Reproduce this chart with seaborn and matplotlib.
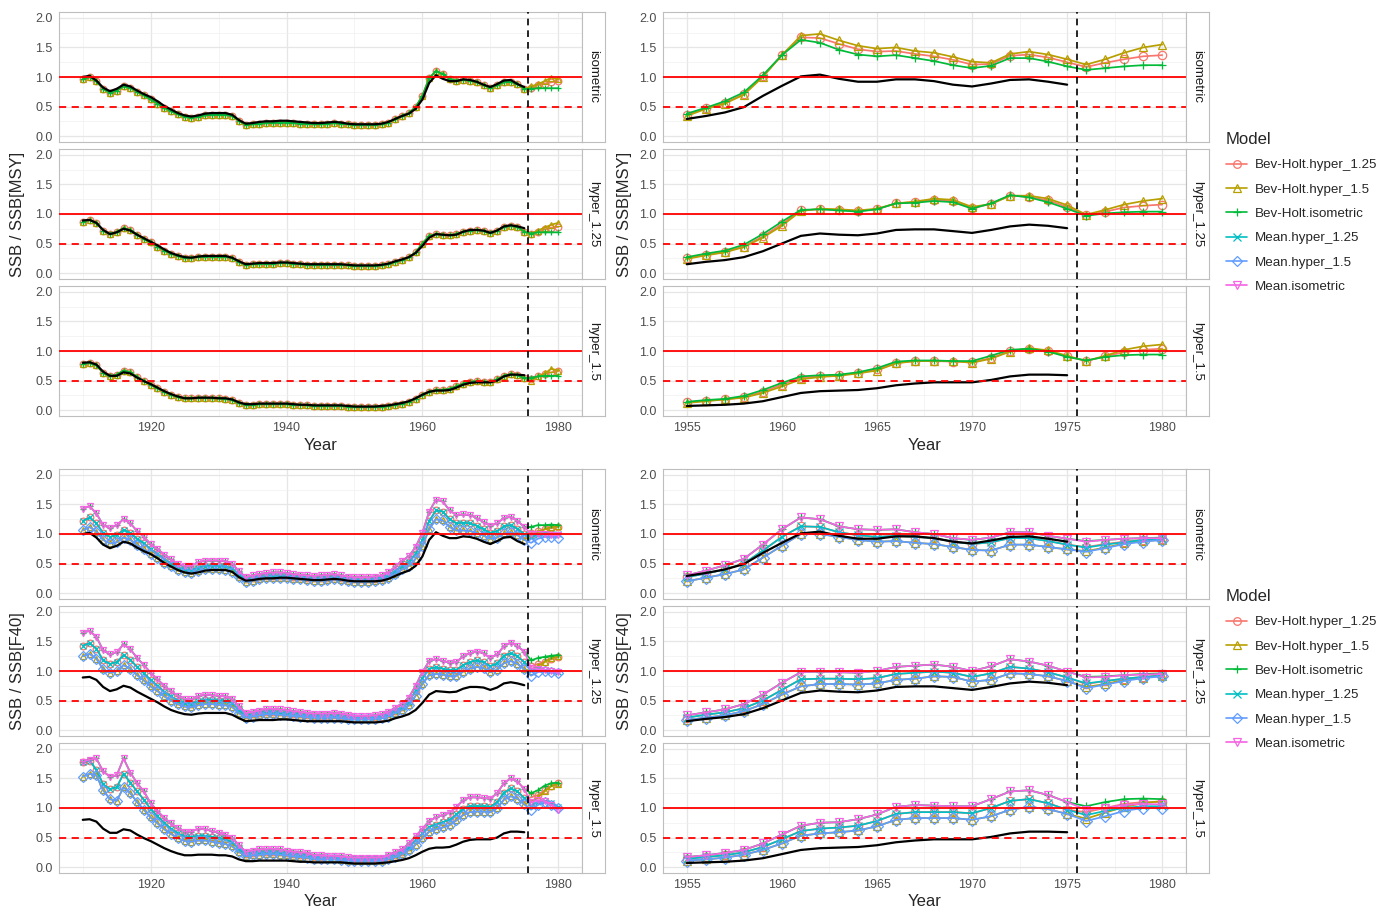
import matplotlib
matplotlib.use("Agg")
import matplotlib.pyplot as plt
from matplotlib.markers import MarkerStyle
from matplotlib.lines import Line2D
import pandas as pd
import seaborn as sns

sns.set_theme(style="white")
plt.rcParams["font.family"] = ["Liberation Sans", "DejaVu Sans"]

# ---------------------------------------------------------------- data
facets = ["isometric", "hyper_1.25", "hyper_1.5"]
models = ["Bev-Holt.hyper_1.25", "Bev-Holt.hyper_1.5", "Bev-Holt.isometric",
          "Mean.hyper_1.25", "Mean.hyper_1.5", "Mean.isometric"]
model_colors = ["#F8766D", "#B79F00", "#00BA38", "#00BFC4", "#619CFF", "#F564E3"]
model_shapes = ["o", "^", "+", "x", "D", "v"]

years_long = list(range(1910, 1981))
years_short = list(range(1955, 1981))
obs_years_long = list(range(1910, 1976))
obs_years_short = list(range(1955, 1976))
proj_start = 1976
cutoff_year = 1975.5

# assessment (black) ratios, long series 1910-1975
obs_L_iso = [1.00, 1.02, 0.94, 0.82, 0.76, 0.80, 0.87, 0.84, 0.77, 0.71,
             0.66, 0.59, 0.51, 0.45, 0.39, 0.35, 0.33, 0.35, 0.38, 0.39,
             0.39, 0.39, 0.36, 0.27, 0.21, 0.22, 0.24, 0.25, 0.25, 0.26,
             0.26, 0.25, 0.24, 0.23, 0.22, 0.22, 0.23, 0.24, 0.23, 0.21,
             0.20, 0.20, 0.20, 0.20, 0.21, 0.24, 0.29, 0.34, 0.38, 0.46,
             0.62, 0.90, 1.03, 0.97, 0.93, 0.93, 0.96, 0.95, 0.92, 0.87,
             0.83, 0.88, 0.94, 0.95, 0.88, 0.83]
obs_L_h125 = [0.89, 0.90, 0.85, 0.73, 0.66, 0.69, 0.75, 0.72, 0.65, 0.59,
              0.53, 0.47, 0.40, 0.34, 0.30, 0.27, 0.26, 0.28, 0.29, 0.29,
              0.29, 0.29, 0.26, 0.20, 0.15, 0.16, 0.17, 0.17, 0.17, 0.18,
              0.18, 0.17, 0.16, 0.15, 0.15, 0.15, 0.15, 0.15, 0.15, 0.14,
              0.13, 0.13, 0.13, 0.13, 0.14, 0.16, 0.20, 0.23, 0.27, 0.34,
              0.46, 0.60, 0.66, 0.65, 0.64, 0.65, 0.70, 0.73, 0.73, 0.72,
              0.68, 0.72, 0.79, 0.81, 0.79, 0.76]
obs_L_h15 = [0.80, 0.81, 0.77, 0.65, 0.58, 0.58, 0.64, 0.62, 0.55, 0.49,
             0.44, 0.38, 0.32, 0.27, 0.23, 0.20, 0.20, 0.21, 0.21, 0.21,
             0.20, 0.20, 0.18, 0.13, 0.10, 0.10, 0.11, 0.11, 0.11, 0.11,
             0.11, 0.10, 0.09, 0.09, 0.08, 0.08, 0.08, 0.08, 0.08, 0.07,
             0.06, 0.06, 0.06, 0.06, 0.07, 0.08, 0.10, 0.12, 0.15, 0.20,
             0.26, 0.31, 0.33, 0.33, 0.34, 0.38, 0.43, 0.46, 0.47, 0.47,
             0.47, 0.50, 0.57, 0.60, 0.60, 0.59]

# assessment (black) ratios, short series 1955-1975
obs_R_iso = [0.29, 0.34, 0.40, 0.49, 0.68, 0.85, 1.01, 1.04, 0.97, 0.92, 0.92,
             0.96, 0.96, 0.93, 0.87, 0.84, 0.89, 0.95, 0.96, 0.92, 0.87]
obs_R_h125 = [0.15, 0.19, 0.22, 0.27, 0.37, 0.50, 0.63, 0.67, 0.65, 0.64, 0.67,
              0.73, 0.74, 0.74, 0.71, 0.68, 0.73, 0.79, 0.82, 0.80, 0.76]
obs_R_h15 = [0.07, 0.08, 0.09, 0.11, 0.15, 0.22, 0.29, 0.32, 0.33, 0.34, 0.37,
             0.42, 0.45, 0.47, 0.47, 0.47, 0.51, 0.57, 0.60, 0.60, 0.59]

# SSB/SSB[MSY], long series: Bev-Holt fits 1910-1975 (coincident) + projections
msy_L_fit_iso = [0.96, 1.00, 0.93, 0.80, 0.73, 0.77, 0.84, 0.82, 0.75, 0.69,
                 0.62, 0.55, 0.48, 0.42, 0.37, 0.33, 0.31, 0.33, 0.35, 0.36,
                 0.36, 0.36, 0.34, 0.26, 0.19, 0.20, 0.21, 0.22, 0.22, 0.23,
                 0.23, 0.22, 0.21, 0.21, 0.20, 0.20, 0.21, 0.22, 0.21, 0.20,
                 0.19, 0.19, 0.19, 0.19, 0.20, 0.23, 0.29, 0.34, 0.39, 0.49,
                 0.68, 0.98, 1.10, 1.05, 0.97, 0.94, 0.95, 0.94, 0.91, 0.86,
                 0.82, 0.86, 0.91, 0.92, 0.88, 0.80]
msy_L_fit_h125 = [0.87, 0.90, 0.85, 0.72, 0.66, 0.70, 0.76, 0.73, 0.65, 0.58,
                  0.52, 0.45, 0.38, 0.33, 0.29, 0.26, 0.26, 0.28, 0.28, 0.28,
                  0.28, 0.28, 0.25, 0.19, 0.14, 0.15, 0.16, 0.16, 0.16, 0.17,
                  0.17, 0.16, 0.15, 0.14, 0.14, 0.14, 0.14, 0.14, 0.14, 0.13,
                  0.12, 0.12, 0.12, 0.12, 0.13, 0.15, 0.19, 0.22, 0.27, 0.35,
                  0.50, 0.63, 0.66, 0.65, 0.64, 0.66, 0.70, 0.72, 0.73, 0.71,
                  0.68, 0.72, 0.78, 0.80, 0.78, 0.70]
msy_L_fit_h15 = [0.78, 0.80, 0.76, 0.63, 0.57, 0.60, 0.67, 0.64, 0.56, 0.49,
                 0.43, 0.37, 0.31, 0.26, 0.22, 0.20, 0.20, 0.21, 0.21, 0.20,
                 0.20, 0.19, 0.17, 0.12, 0.09, 0.09, 0.10, 0.10, 0.10, 0.10,
                 0.10, 0.09, 0.09, 0.08, 0.07, 0.07, 0.07, 0.07, 0.07, 0.06,
                 0.05, 0.05, 0.05, 0.05, 0.06, 0.07, 0.09, 0.11, 0.14, 0.19,
                 0.26, 0.31, 0.34, 0.34, 0.36, 0.40, 0.45, 0.48, 0.49, 0.48,
                 0.48, 0.52, 0.58, 0.61, 0.59, 0.54]
msy_L_proj_iso = {"Bev-Holt.hyper_1.25": [0.82, 0.86, 0.89, 0.91, 0.93],
                  "Bev-Holt.hyper_1.5": [0.84, 0.88, 0.93, 0.99, 0.96],
                  "Bev-Holt.isometric": [0.80, 0.81, 0.81, 0.81, 0.81]}
msy_L_proj_h125 = {"Bev-Holt.hyper_1.25": [0.66, 0.70, 0.74, 0.77, 0.78],
                   "Bev-Holt.hyper_1.5": [0.67, 0.72, 0.77, 0.82, 0.85],
                   "Bev-Holt.isometric": [0.67, 0.69, 0.69, 0.69, 0.69]}
msy_L_proj_h15 = {"Bev-Holt.hyper_1.25": [0.52, 0.57, 0.61, 0.64, 0.66],
                  "Bev-Holt.hyper_1.5": [0.50, 0.57, 0.62, 0.70, 0.67],
                  "Bev-Holt.isometric": [0.55, 0.57, 0.58, 0.58, 0.58]}

# SSB/SSB[MSY], short series 1955-1980
msy_R_iso = {
    "Bev-Holt.hyper_1.25": [0.36, 0.47, 0.56, 0.71, 1.01, 1.37, 1.67, 1.66, 1.56, 1.47, 1.43, 1.44, 1.39,
                            1.35, 1.29, 1.21, 1.22, 1.36, 1.38, 1.33, 1.25, 1.17, 1.24, 1.30, 1.35, 1.37],
    "Bev-Holt.hyper_1.5": [0.34, 0.46, 0.55, 0.70, 1.00, 1.37, 1.70, 1.73, 1.62, 1.53, 1.48, 1.50, 1.44,
                           1.41, 1.34, 1.26, 1.24, 1.39, 1.43, 1.38, 1.30, 1.21, 1.30, 1.41, 1.50, 1.55],
    "Bev-Holt.isometric": [0.38, 0.48, 0.59, 0.74, 1.03, 1.37, 1.63, 1.58, 1.46, 1.38, 1.35, 1.37, 1.32,
                           1.27, 1.20, 1.15, 1.19, 1.32, 1.32, 1.26, 1.18, 1.12, 1.15, 1.18, 1.20, 1.20]}
msy_R_h125 = {
    "Bev-Holt.hyper_1.25": [0.25, 0.31, 0.36, 0.45, 0.62, 0.83, 1.06, 1.08, 1.07, 1.05, 1.08, 1.18, 1.20,
                            1.24, 1.22, 1.10, 1.17, 1.31, 1.29, 1.23, 1.12, 0.98, 1.04, 1.11, 1.14, 1.16],
    "Bev-Holt.hyper_1.5": [0.24, 0.30, 0.35, 0.44, 0.60, 0.80, 1.05, 1.09, 1.08, 1.06, 1.09, 1.18, 1.21,
                           1.26, 1.24, 1.12, 1.17, 1.31, 1.31, 1.26, 1.15, 0.99, 1.07, 1.16, 1.22, 1.26],
    "Bev-Holt.isometric": [0.27, 0.33, 0.38, 0.48, 0.66, 0.87, 1.07, 1.08, 1.06, 1.04, 1.08, 1.18, 1.19,
                           1.22, 1.20, 1.09, 1.18, 1.32, 1.28, 1.20, 1.09, 0.97, 1.01, 1.03, 1.04, 1.04]}
msy_R_h15 = {
    "Bev-Holt.hyper_1.25": [0.13, 0.16, 0.18, 0.22, 0.31, 0.43, 0.55, 0.57, 0.59, 0.63, 0.69, 0.80, 0.83,
                            0.83, 0.82, 0.81, 0.88, 1.00, 1.04, 1.00, 0.91, 0.83, 0.91, 0.98, 1.02, 1.04],
    "Bev-Holt.hyper_1.5": [0.12, 0.15, 0.18, 0.21, 0.29, 0.40, 0.52, 0.56, 0.58, 0.62, 0.67, 0.79, 0.83,
                           0.83, 0.83, 0.80, 0.87, 0.99, 1.05, 1.01, 0.92, 0.83, 0.92, 1.02, 1.08, 1.11],
    "Bev-Holt.isometric": [0.14, 0.17, 0.19, 0.24, 0.34, 0.46, 0.57, 0.59, 0.60, 0.64, 0.71, 0.82, 0.84,
                           0.84, 0.83, 0.83, 0.92, 1.02, 1.04, 0.99, 0.90, 0.84, 0.90, 0.93, 0.94, 0.94]}

# SSB/SSB[F40], long series: fitted 1910-1975 (hi = isometric models,
# mid = hyper_1.25 models, lo = hyper_1.5 models) + projections 1976-1980
f40_L_hi_iso = [1.43, 1.47, 1.35, 1.15, 1.10, 1.15, 1.25, 1.18, 1.05, 0.95,
                0.83, 0.75, 0.65, 0.57, 0.50, 0.46, 0.46, 0.52, 0.55, 0.55,
                0.55, 0.54, 0.50, 0.37, 0.27, 0.30, 0.32, 0.34, 0.35, 0.35,
                0.34, 0.32, 0.31, 0.30, 0.29, 0.30, 0.31, 0.32, 0.30, 0.28,
                0.27, 0.27, 0.27, 0.28, 0.30, 0.35, 0.45, 0.55, 0.62, 0.78,
                1.02, 1.38, 1.58, 1.55, 1.40, 1.32, 1.33, 1.32, 1.27, 1.20,
                1.14, 1.18, 1.27, 1.29, 1.22, 1.12]
f40_L_mid_iso = [1.22, 1.28, 1.18, 1.02, 0.95, 0.98, 1.07, 1.02, 0.92, 0.84,
                 0.74, 0.66, 0.58, 0.50, 0.44, 0.40, 0.39, 0.43, 0.46, 0.46,
                 0.46, 0.45, 0.42, 0.31, 0.23, 0.25, 0.27, 0.29, 0.29, 0.29,
                 0.29, 0.28, 0.27, 0.26, 0.25, 0.25, 0.26, 0.27, 0.26, 0.24,
                 0.23, 0.23, 0.23, 0.24, 0.26, 0.30, 0.38, 0.46, 0.53, 0.66,
                 0.90, 1.22, 1.40, 1.38, 1.25, 1.18, 1.19, 1.18, 1.14, 1.08,
                 1.02, 1.05, 1.13, 1.15, 1.09, 1.00]
f40_L_lo_iso = [1.06, 1.12, 1.04, 0.90, 0.84, 0.86, 0.94, 0.90, 0.81, 0.74,
                0.66, 0.59, 0.51, 0.45, 0.39, 0.35, 0.34, 0.37, 0.40, 0.40,
                0.40, 0.39, 0.36, 0.27, 0.19, 0.21, 0.23, 0.25, 0.25, 0.25,
                0.25, 0.24, 0.23, 0.22, 0.21, 0.21, 0.22, 0.23, 0.22, 0.20,
                0.19, 0.19, 0.19, 0.20, 0.22, 0.26, 0.33, 0.40, 0.46, 0.58,
                0.80, 1.08, 1.25, 1.23, 1.12, 1.06, 1.06, 1.05, 1.02, 0.97,
                0.92, 0.94, 1.01, 1.03, 0.98, 0.90]
f40_L_hi_h125 = [1.65, 1.68, 1.58, 1.35, 1.28, 1.32, 1.45, 1.37, 1.22, 1.10,
                 0.97, 0.86, 0.75, 0.66, 0.58, 0.53, 0.52, 0.57, 0.60, 0.59,
                 0.58, 0.57, 0.53, 0.40, 0.29, 0.31, 0.33, 0.36, 0.36, 0.35,
                 0.34, 0.32, 0.31, 0.29, 0.28, 0.28, 0.28, 0.29, 0.28, 0.26,
                 0.24, 0.24, 0.24, 0.25, 0.27, 0.31, 0.38, 0.45, 0.55, 0.75,
                 0.98, 1.17, 1.20, 1.17, 1.14, 1.15, 1.25, 1.30, 1.33, 1.30,
                 1.22, 1.28, 1.42, 1.48, 1.42, 1.33]
f40_L_mid_h125 = [1.43, 1.47, 1.38, 1.18, 1.12, 1.15, 1.27, 1.19, 1.07, 0.96,
                  0.85, 0.75, 0.65, 0.57, 0.50, 0.46, 0.45, 0.49, 0.51, 0.51,
                  0.50, 0.49, 0.46, 0.34, 0.25, 0.27, 0.29, 0.31, 0.31, 0.30,
                  0.29, 0.28, 0.27, 0.25, 0.24, 0.24, 0.24, 0.25, 0.24, 0.22,
                  0.21, 0.21, 0.21, 0.22, 0.23, 0.27, 0.33, 0.39, 0.48, 0.66,
                  0.88, 1.04, 1.06, 1.04, 1.01, 1.02, 1.10, 1.15, 1.18, 1.15,
                  1.08, 1.13, 1.26, 1.30, 1.25, 1.15]
f40_L_lo_h125 = [1.25, 1.29, 1.21, 1.03, 0.97, 1.00, 1.10, 1.04, 0.93, 0.84,
                 0.74, 0.66, 0.57, 0.50, 0.44, 0.40, 0.39, 0.42, 0.44, 0.44,
                 0.43, 0.42, 0.39, 0.29, 0.21, 0.23, 0.25, 0.27, 0.27, 0.26,
                 0.25, 0.24, 0.23, 0.22, 0.21, 0.21, 0.21, 0.21, 0.20, 0.19,
                 0.18, 0.18, 0.18, 0.19, 0.20, 0.23, 0.29, 0.34, 0.42, 0.58,
                 0.78, 0.93, 0.95, 0.94, 0.91, 0.92, 0.99, 1.04, 1.07, 1.05,
                 0.98, 1.02, 1.13, 1.17, 1.12, 1.03]
f40_L_hi_h15 = [1.78, 1.82, 1.84, 1.62, 1.53, 1.55, 1.84, 1.60, 1.42, 1.28,
                1.08, 0.95, 0.83, 0.74, 0.66, 0.60, 0.60, 0.65, 0.64, 0.61,
                0.58, 0.55, 0.50, 0.37, 0.26, 0.28, 0.30, 0.31, 0.31, 0.30,
                0.28, 0.26, 0.25, 0.24, 0.20, 0.20, 0.19, 0.19, 0.18, 0.17,
                0.16, 0.16, 0.16, 0.16, 0.16, 0.20, 0.25, 0.30, 0.40, 0.52,
                0.65, 0.78, 0.84, 0.88, 0.92, 1.02, 1.13, 1.18, 1.18, 1.17,
                1.16, 1.25, 1.42, 1.50, 1.45, 1.32]
f40_L_mid_h15 = [1.78, 1.80, 1.65, 1.40, 1.32, 1.35, 1.58, 1.43, 1.28, 1.14,
                 0.98, 0.86, 0.75, 0.65, 0.57, 0.52, 0.51, 0.53, 0.53, 0.51,
                 0.49, 0.47, 0.42, 0.31, 0.22, 0.24, 0.25, 0.26, 0.26, 0.25,
                 0.24, 0.22, 0.21, 0.20, 0.17, 0.17, 0.16, 0.16, 0.15, 0.14,
                 0.14, 0.14, 0.14, 0.14, 0.14, 0.17, 0.21, 0.26, 0.34, 0.45,
                 0.57, 0.68, 0.72, 0.76, 0.80, 0.89, 0.99, 1.03, 1.03, 1.03,
                 1.02, 1.10, 1.26, 1.33, 1.28, 1.17]
f40_L_lo_h15 = [1.53, 1.58, 1.55, 1.30, 1.15, 1.12, 1.35, 1.25, 1.10, 0.97,
                0.84, 0.74, 0.64, 0.56, 0.49, 0.44, 0.43, 0.45, 0.45, 0.43,
                0.41, 0.39, 0.35, 0.26, 0.18, 0.20, 0.21, 0.22, 0.22, 0.21,
                0.20, 0.18, 0.17, 0.16, 0.14, 0.13, 0.13, 0.13, 0.12, 0.11,
                0.11, 0.11, 0.11, 0.11, 0.11, 0.14, 0.17, 0.22, 0.29, 0.38,
                0.49, 0.60, 0.64, 0.67, 0.71, 0.79, 0.88, 0.93, 0.94, 0.94,
                0.93, 1.00, 1.14, 1.20, 1.16, 1.06]
f40_L_proj_iso = {"Bev-Holt.isometric": [1.12, 1.15, 1.15, 1.16, 1.15],
                  "Mean.isometric": [1.00, 1.00, 1.00, 0.98, 0.98],
                  "Bev-Holt.hyper_1.25": [1.02, 1.05, 1.08, 1.10, 1.12],
                  "Mean.hyper_1.25": [0.95, 0.98, 1.00, 1.00, 1.00],
                  "Bev-Holt.hyper_1.5": [0.98, 1.03, 1.08, 1.12, 1.13],
                  "Mean.hyper_1.5": [0.85, 0.92, 0.95, 0.95, 0.94]}
f40_L_proj_h125 = {"Bev-Holt.isometric": [1.18, 1.22, 1.24, 1.26, 1.27],
                   "Mean.isometric": [1.05, 1.03, 1.02, 1.00, 0.98],
                   "Bev-Holt.hyper_1.25": [1.08, 1.12, 1.16, 1.20, 1.23],
                   "Mean.hyper_1.25": [1.02, 1.03, 1.02, 1.00, 0.98],
                   "Bev-Holt.hyper_1.5": [1.00, 1.08, 1.15, 1.22, 1.25],
                   "Mean.hyper_1.5": [0.92, 0.98, 1.00, 0.98, 0.96]}
f40_L_proj_h15 = {"Bev-Holt.isometric": [1.25, 1.30, 1.38, 1.42, 1.43],
                  "Mean.isometric": [1.10, 1.13, 1.12, 1.05, 0.97],
                  "Bev-Holt.hyper_1.25": [1.18, 1.22, 1.30, 1.38, 1.42],
                  "Mean.hyper_1.25": [1.05, 1.10, 1.12, 1.08, 1.02],
                  "Bev-Holt.hyper_1.5": [1.10, 1.18, 1.28, 1.37, 1.40],
                  "Mean.hyper_1.5": [0.97, 1.05, 1.10, 1.05, 1.00]}

# SSB/SSB[F40], short series: fitted 1955-1975 + projections 1976-1980
f40_R_hi_iso = [0.30, 0.38, 0.47, 0.58, 0.82, 1.08, 1.28, 1.25, 1.13, 1.08, 1.07,
                1.08, 1.03, 1.00, 0.93, 0.90, 0.94, 1.03, 1.03, 0.97, 0.92]
f40_R_mid_iso = [0.27, 0.33, 0.40, 0.50, 0.72, 0.95, 1.13, 1.12, 1.03, 0.98, 0.95,
                 0.97, 0.95, 0.93, 0.87, 0.83, 0.86, 0.93, 0.93, 0.88, 0.82]
f40_R_lo_iso = [0.20, 0.26, 0.32, 0.40, 0.60, 0.80, 1.00, 1.00, 0.95, 0.90, 0.87,
                0.88, 0.85, 0.83, 0.78, 0.73, 0.72, 0.82, 0.82, 0.78, 0.74]
f40_R_hi_h125 = [0.25, 0.30, 0.35, 0.44, 0.60, 0.80, 0.98, 0.99, 0.98, 0.97, 1.00,
                 1.07, 1.09, 1.11, 1.07, 1.00, 1.08, 1.20, 1.16, 1.09, 0.99]
f40_R_mid_h125 = [0.21, 0.26, 0.30, 0.37, 0.50, 0.68, 0.86, 0.87, 0.87, 0.86, 0.88,
                  0.95, 0.97, 0.99, 0.97, 0.90, 0.96, 1.07, 1.04, 0.98, 0.89]
f40_R_lo_h125 = [0.17, 0.21, 0.25, 0.32, 0.44, 0.60, 0.74, 0.78, 0.78, 0.77, 0.79,
                 0.85, 0.87, 0.91, 0.90, 0.82, 0.85, 0.96, 0.95, 0.91, 0.83]
f40_R_hi_h15 = [0.17, 0.20, 0.24, 0.29, 0.40, 0.55, 0.70, 0.75, 0.76, 0.81, 0.89,
                1.02, 1.05, 1.04, 1.03, 1.03, 1.15, 1.28, 1.30, 1.22, 1.10]
f40_R_mid_h15 = [0.14, 0.17, 0.20, 0.25, 0.34, 0.47, 0.61, 0.65, 0.67, 0.70, 0.78,
                 0.90, 0.93, 0.93, 0.93, 0.91, 1.00, 1.12, 1.15, 1.08, 0.97]
f40_R_lo_h15 = [0.11, 0.13, 0.16, 0.21, 0.29, 0.40, 0.53, 0.57, 0.59, 0.62, 0.69,
                0.80, 0.83, 0.83, 0.83, 0.80, 0.86, 0.97, 1.02, 0.98, 0.90]
f40_R_proj_iso = {"Bev-Holt.isometric": [0.88, 0.90, 0.92, 0.93, 0.94],
                  "Mean.isometric": [0.87, 0.90, 0.92, 0.93, 0.93],
                  "Bev-Holt.hyper_1.25": [0.78, 0.83, 0.87, 0.90, 0.92],
                  "Mean.hyper_1.25": [0.77, 0.82, 0.86, 0.90, 0.92],
                  "Bev-Holt.hyper_1.5": [0.71, 0.77, 0.84, 0.88, 0.90],
                  "Mean.hyper_1.5": [0.70, 0.76, 0.83, 0.87, 0.90]}
f40_R_proj_h125 = {"Bev-Holt.isometric": [0.90, 0.91, 0.93, 0.95, 0.96],
                   "Mean.isometric": [0.89, 0.90, 0.93, 0.94, 0.95],
                   "Bev-Holt.hyper_1.25": [0.78, 0.83, 0.87, 0.90, 0.93],
                   "Mean.hyper_1.25": [0.79, 0.83, 0.87, 0.90, 0.92],
                   "Bev-Holt.hyper_1.5": [0.73, 0.78, 0.85, 0.89, 0.92],
                   "Mean.hyper_1.5": [0.71, 0.77, 0.83, 0.88, 0.91]}
f40_R_proj_h15 = {"Bev-Holt.isometric": [1.03, 1.10, 1.15, 1.16, 1.15],
                  "Mean.isometric": [0.97, 1.00, 1.05, 1.07, 1.06],
                  "Bev-Holt.hyper_1.25": [0.93, 1.00, 1.07, 1.10, 1.10],
                  "Mean.hyper_1.25": [0.88, 0.95, 1.00, 1.03, 1.03],
                  "Bev-Holt.hyper_1.5": [0.82, 0.92, 1.02, 1.08, 1.12],
                  "Mean.hyper_1.5": [0.78, 0.86, 0.95, 1.00, 1.00]}

# ---------------------------------------------------------------- tables
group_of = {"Bev-Holt.isometric": "hi", "Mean.isometric": "hi",
            "Bev-Holt.hyper_1.25": "mid", "Mean.hyper_1.25": "mid",
            "Bev-Holt.hyper_1.5": "lo", "Mean.hyper_1.5": "lo"}
obs_L = dict(zip(facets, [obs_L_iso, obs_L_h125, obs_L_h15]))
obs_R = dict(zip(facets, [obs_R_iso, obs_R_h125, obs_R_h15]))
msy_L_fit = dict(zip(facets, [msy_L_fit_iso, msy_L_fit_h125, msy_L_fit_h15]))
msy_L_proj = dict(zip(facets, [msy_L_proj_iso, msy_L_proj_h125, msy_L_proj_h15]))
msy_R = dict(zip(facets, [msy_R_iso, msy_R_h125, msy_R_h15]))
f40_L_fit = dict(zip(facets, [
    {"hi": f40_L_hi_iso, "mid": f40_L_mid_iso, "lo": f40_L_lo_iso},
    {"hi": f40_L_hi_h125, "mid": f40_L_mid_h125, "lo": f40_L_lo_h125},
    {"hi": f40_L_hi_h15, "mid": f40_L_mid_h15, "lo": f40_L_lo_h15}]))
f40_L_proj = dict(zip(facets, [f40_L_proj_iso, f40_L_proj_h125, f40_L_proj_h15]))
f40_R_fit = dict(zip(facets, [
    {"hi": f40_R_hi_iso, "mid": f40_R_mid_iso, "lo": f40_R_lo_iso},
    {"hi": f40_R_hi_h125, "mid": f40_R_mid_h125, "lo": f40_R_lo_h125},
    {"hi": f40_R_hi_h15, "mid": f40_R_mid_h15, "lo": f40_R_lo_h15}]))
f40_R_proj = dict(zip(facets, [f40_R_proj_iso, f40_R_proj_h125, f40_R_proj_h15]))

rows = []


def add(block, facet, model, years, vals):
    if len(years) != len(vals):
        raise ValueError(f"{block}/{facet}/{model}: {len(years)} years vs {len(vals)} values")
    for yr, v in zip(years, vals):
        rows.append({"block": block, "facet": facet, "Model": model, "Year": yr, "value": v})


bh_models = models[:3]
for f in facets:
    for m in bh_models:
        add("msyL", f, m, years_long, msy_L_fit[f] + msy_L_proj[f][m])
        add("msyR", f, m, years_short, msy_R[f][m])
    for m in models:
        add("f40L", f, m, years_long, f40_L_fit[f][group_of[m]] + f40_L_proj[f][m])
        add("f40R", f, m, years_short, f40_R_fit[f][group_of[m]] + f40_R_proj[f][m])
    for blk in ("msyL", "f40L"):
        add(blk, f, "obs", obs_years_long, obs_L[f])
    for blk in ("msyR", "f40R"):
        add(blk, f, "obs", obs_years_short, obs_R[f])
df = pd.DataFrame(rows)

palette = dict(zip(models, model_colors))
marker_map = {m: MarkerStyle(s, fillstyle="none") for m, s in zip(models, model_shapes)}

# ---------------------------------------------------------------- layout
W, H = 1388, 909
fig = plt.figure(figsize=(W / 100, H / 100), dpi=100)


def rect(x0, y0, x1, y1):
    return [x0 / W, 1 - y1 / H, (x1 - x0) / W, (y1 - y0) / H]


col_x = {"L": (59, 582), "R": (663, 1186)}
strip_w = 23
rows_top = [(12, 142), (149, 279), (286, 416)]
rows_bot = [(469, 599), (606, 736), (743, 873)]
blocks = [("msyL", "L", rows_top, bh_models), ("msyR", "R", rows_top, bh_models),
          ("f40L", "L", rows_bot, models), ("f40R", "R", rows_bot, models)]
xcfg = {"L": dict(lim=(1906.5, 1983.5), major=[1920, 1940, 1960, 1980], minor=[1910, 1930, 1950, 1970]),
        "R": dict(lim=(1953.75, 1981.25), major=[1955, 1960, 1965, 1970, 1975, 1980],
                  minor=[1957.5, 1962.5, 1967.5, 1972.5, 1977.5])}
border = "#BEBEBE"
grid_c = "#E6E6E6"

for blk, col, rws, present in blocks:
    x0, x1 = col_x[col]
    for i, (f, (ytop, ybot)) in enumerate(zip(facets, rws)):
        ax = fig.add_axes(rect(x0, ytop, x1, ybot))
        sub = df[(df.block == blk) & (df.facet == f) & (df.Model != "obs")]
        ms = 4.8 if col == "L" else 6.0
        sns.lineplot(data=sub, x="Year", y="value", hue="Model", style="Model",
                     hue_order=present, style_order=present, palette=palette,
                     markers=marker_map, dashes=False, estimator=None, sort=True,
                     linewidth=1.25, markersize=ms, markeredgewidth=0.9,
                     markeredgecolor="auto", fillstyle="none", legend=False, ax=ax)
        obs = df[(df.block == blk) & (df.facet == f) & (df.Model == "obs")]
        sns.lineplot(data=obs, x="Year", y="value", color="black", linewidth=1.6,
                     estimator=None, legend=False, ax=ax)
        ax.axhline(1.0, color="#FF0000", lw=1.3, zorder=3)
        ax.axhline(0.5, color="#FF0000", lw=1.3, ls=(0, (4, 3)), zorder=3)
        ax.axvline(cutoff_year, color="black", lw=1.2, ls=(0, (4, 3)), zorder=3)

        c = xcfg[col]
        ax.set_xlim(*c["lim"])
        ax.set_ylim(-0.1, 2.1)
        ax.set_xticks(c["major"])
        ax.set_xticks(c["minor"], minor=True)
        ax.set_yticks([0, 0.5, 1.0, 1.5, 2.0])
        ax.set_yticks([0.25, 0.75, 1.25, 1.75], minor=True)
        ax.set_yticklabels(["0.0", "0.5", "1.0", "1.5", "2.0"])
        ax.set_xticklabels([str(v) for v in c["major"]])
        ax.grid(which="major", color=grid_c, lw=0.9)
        ax.grid(which="minor", color="#F0F0F0", lw=0.5)
        ax.set_axisbelow(True)
        ax.tick_params(which="major", length=2.5, width=0.6, color="#B3B3B3",
                       labelsize=9, labelcolor="#4D4D4D", pad=2)
        ax.tick_params(which="minor", length=0)
        ax.tick_params(axis="x", labelbottom=(i == 2))
        ax.set_xlabel("")
        ax.set_ylabel("")
        for sp in ax.spines.values():
            sp.set_color(border)
            sp.set_linewidth(0.8)

        sax = fig.add_axes(rect(x1, ytop, x1 + strip_w, ybot))
        sax.set_xticks([])
        sax.set_yticks([])
        sax.set_facecolor("white")
        for sp in sax.spines.values():
            sp.set_color(border)
            sp.set_linewidth(0.8)
        sax.text(0.5, 0.5, f, rotation=270, ha="center", va="center",
                 fontsize=9.5, color="#1A1A1A", transform=sax.transAxes)

    # axis titles
    ylab = "SSB / SSB[MSY]" if blk.startswith("msy") else "SSB / SSB[F40]"
    ycen = (rws[0][0] + rws[2][1]) / 2
    xlab_x = 18 if col == "L" else 624
    fig.text(xlab_x / W, 1 - ycen / H, ylab, rotation=90, ha="center", va="center", fontsize=12)
    xlab_y = 445 if rws is rows_top else 901
    fig.text(((x0 + x1) / 2) / W, 1 - xlab_y / H, "Year", ha="center", va="center", fontsize=12)

# legends
handles = [Line2D([], [], color=c, lw=1.2, marker=MarkerStyle(s, fillstyle="none"),
                  markeredgecolor=c, markersize=5.5, markeredgewidth=0.9)
           for c, s in zip(model_colors, model_shapes)]
for ytop in (132, 589):
    fig.legend(handles, models, title="Model", loc="upper left",
               bbox_to_anchor=(1226 / W, 1 - ytop / H), frameon=False,
               fontsize=9.6, title_fontsize=12, labelspacing=0.9,
               handlelength=1.6, handletextpad=0.55, borderpad=0, borderaxespad=0,
               alignment="left")

fig.savefig("out.png", dpi=100)
